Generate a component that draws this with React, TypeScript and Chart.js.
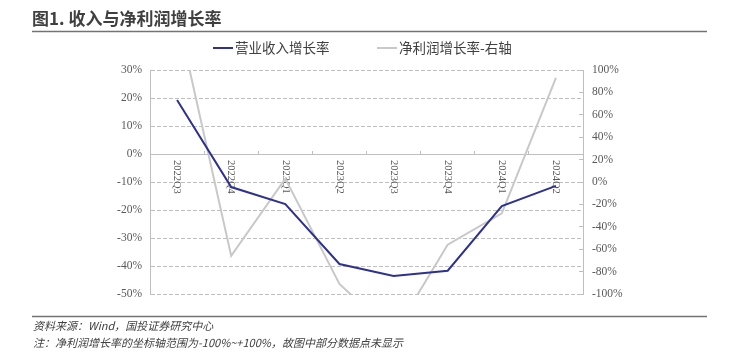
import React, { useEffect, useRef } from "react";
import { Chart, registerables } from "chart.js";

Chart.register(...registerables);

const categories = ["2022Q3", "2022Q4", "2023Q1", "2023Q2", "2023Q3", "2023Q4", "2024Q1", "2024Q2"];
const revenueGrowth = [19.3, -11.8, -17.9, -39.3, -43.6, -41.7, -18.6, -11.4];
const profitGrowth = [150, -66, 3, -91, -136, -56, -28, 93];
const seriesNames = ["营业收入增长率", "净利润增长率-右轴"];
const titleText = "图1. 收入与净利润增长率";
const sourceText = "资料来源：Wind，国投证券研究中心";
const noteText = "注：净利润增长率的坐标轴范围为-100%~+100%，故图中部分数据点未显示";

const W = 729;
const H = 352;
const CJK = '"Noto Sans CJK SC", "Noto Sans", sans-serif';
const SERIF = '"Liberation Serif", "DejaVu Serif", serif';

export default function App() {
  const ref = useRef<HTMLCanvasElement | null>(null);

  useEffect(() => {
    const canvas = ref.current;
    if (!canvas) return;

    const decor = {
      id: "decor",
      beforeDatasetsDraw(chart: any) {
        const ctx = chart.ctx;
        const xs = chart.scales.x;
        const ys = chart.scales.y;
        const y0 = ys.getPixelForValue(0) + 6;
        ctx.save();
        ctx.fillStyle = "#595959";
        ctx.font = `10.5px ${SERIF}`;
        ctx.textAlign = "left";
        ctx.textBaseline = "middle";
        categories.forEach((c, i) => {
          const x = xs.getPixelForValue(i);
          ctx.save();
          ctx.translate(x, y0);
          ctx.rotate(Math.PI / 2);
          ctx.fillText(c, 0, 0);
          ctx.restore();
        });
        ctx.restore();
      },
      afterDraw(chart: any) {
        const ctx = chart.ctx;
        ctx.save();
        // title
        ctx.fillStyle = "#404040";
        ctx.font = `bold 17px ${CJK}`;
        ctx.textAlign = "left";
        ctx.textBaseline = "middle";
        ctx.fillText(titleText, 32, 19);
        // rules
        ctx.strokeStyle = "#737373";
        ctx.lineWidth = 1.5;
        ctx.beginPath();
        ctx.moveTo(32, 31.5);
        ctx.lineTo(707, 31.5);
        ctx.moveTo(32, 316.5);
        ctx.lineTo(707, 316.5);
        ctx.stroke();
        // legend
        const legendItems = [
          { x: 213, color: chart.data.datasets[0].borderColor, label: chart.data.datasets[0].label },
          { x: 377, color: chart.data.datasets[1].borderColor, label: chart.data.datasets[1].label },
        ];
        ctx.font = `13.5px ${CJK}`;
        legendItems.forEach((it) => {
          ctx.strokeStyle = it.color;
          ctx.lineWidth = 2;
          ctx.beginPath();
          ctx.moveTo(it.x, 48);
          ctx.lineTo(it.x + 20, 48);
          ctx.stroke();
          ctx.fillStyle = "#404040";
          ctx.fillText(it.label, it.x + 22, 48);
        });
        // footnotes
        ctx.font = `italic 11px ${CJK}`;
        ctx.fillStyle = "#404040";
        ctx.fillText(sourceText, 33, 326);
        ctx.fillText(noteText, 33, 343);
        ctx.restore();
      },
    };

    const chart = new Chart(canvas, {
      type: "line",
      data: {
        labels: categories,
        datasets: [
          {
            label: seriesNames[0],
            data: revenueGrowth,
            borderColor: "#2E3192",
            backgroundColor: "#2E3192",
            borderWidth: 2,
            pointRadius: 0,
            tension: 0,
            yAxisID: "y",
          },
          {
            label: seriesNames[1],
            data: profitGrowth,
            borderColor: "#C8C8C8",
            backgroundColor: "#C8C8C8",
            borderWidth: 2,
            pointRadius: 0,
            tension: 0,
            yAxisID: "y1",
          },
        ],
      },
      options: {
        responsive: false,
        animation: false,
        devicePixelRatio: 1,
        layout: { padding: { left: 0, right: 0, top: 70, bottom: 58 } },
        plugins: { legend: { display: false }, tooltip: { enabled: false } },
        scales: {
          x: {
            type: "category",
            position: { y: 0 } as any,
            offset: true,
            grid: {
              display: true,
              offset: true,
              drawOnChartArea: false,
              drawTicks: true,
              tickLength: -4,
              color: "#BFBFBF",
            },
            border: { display: true, color: "#BFBFBF", width: 1 },
            ticks: { display: false },
          },
          y: {
            type: "linear",
            position: "left",
            min: -50,
            max: 30,
            ticks: {
              stepSize: 10,
              color: "#595959",
              font: { family: SERIF, size: 11.5 },
              padding: 8,
              callback: (v: any) => `${v}%`,
            },
            grid: { color: "#BFBFBF", drawTicks: false, lineWidth: 1 },
            border: { display: true, color: "#BFBFBF", dash: [4, 2] },
            afterFit: (s: any) => {
              s.width = 150;
            },
          },
          y1: {
            type: "linear",
            position: "right",
            min: -100,
            max: 100,
            ticks: {
              stepSize: 20,
              color: "#595959",
              font: { family: SERIF, size: 11.5 },
              padding: 13,
              callback: (v: any) => `${v}%`,
            },
            grid: { drawOnChartArea: false, drawTicks: true, tickLength: -4, color: "#BFBFBF" },
            border: { display: true, color: "#BFBFBF" },
            afterFit: (s: any) => {
              s.width = 146;
            },
          },
        },
      },
      plugins: [decor],
    });

    return () => chart.destroy();
  }, []);

  return (
    <div style={{ position: "absolute", left: 0, top: 0, width: W, height: H, background: "#fff" }}>
      <canvas ref={ref} width={W} height={H} style={{ display: "block" }} />
    </div>
  );
}
